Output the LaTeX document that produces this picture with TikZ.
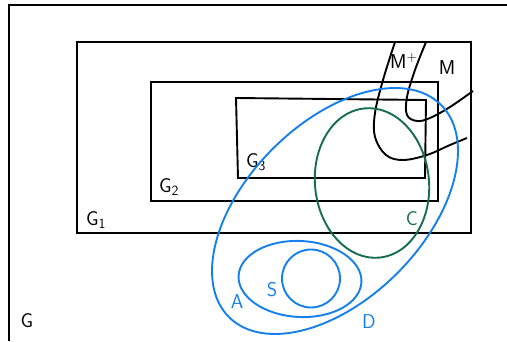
\documentclass[tikz,border=0pt]{standalone}
\usepackage{amsmath}
\usepackage{tikz}

\definecolor{setblue}{RGB}{20,128,235}
\definecolor{setgreen}{RGB}{20,110,78}

\begin{document}
\begin{tikzpicture}[x=1pt,y=1pt,line width=1.9pt,
  lbl/.style={font=\sffamily\fontsize{20}{22}\selectfont,inner sep=0pt}]

\useasboundingbox (0,0) rectangle (507,341);

\draw (9,0) |- (507,336);
\node[lbl] (g) at (27,20) {G};

\draw (77,108) rectangle (471,299);
\node[lbl] (g1) at (96,121) {G\textsubscript{1}};

\draw (151,140) rectangle (438,259);
\node[lbl] (g2) at (169,154) {G\textsubscript{2}};

\draw (236,243) -- (426,241) -- (425,163) -- (238,163) -- cycle;
\node[lbl] (g3) at (256,179) {G\textsubscript{3}};


\draw plot[smooth,tension=0.6] coordinates {(395,299) (383,261) (375,228) (375,204) (386,186) (403,181) (427,186) (450,196) (467,203)};
\draw plot[smooth,tension=0.6] coordinates {(426,299) (415,271) (407,244) (407,226) (417,220) (430,223) (450,234) (473,250)};

\node[lbl] (mp) at (404,280) {M\textsuperscript{+}};
\node[lbl] (m) at (447,273) {M};


\draw[setblue,rotate around={45:(335,130)}] (335,130) ellipse (150 and 88);
\node[lbl,text=setblue] (d) at (369,19) {D};

\draw[setgreen,rotate around={6:(372,158)}] (372,158) ellipse (57 and 75);
\node[lbl,text=setgreen] (c) at (412,122) {C};

\draw[setblue,rotate around={-3:(300,62)}] (300,62) ellipse (61.5 and 38);
\node[lbl,text=setblue] (a) at (237,39) {A};

\draw[setblue] (311,62.5) circle (29);
\node[lbl,text=setblue] (s) at (272,51) {S};

\end{tikzpicture}
\end{document}
